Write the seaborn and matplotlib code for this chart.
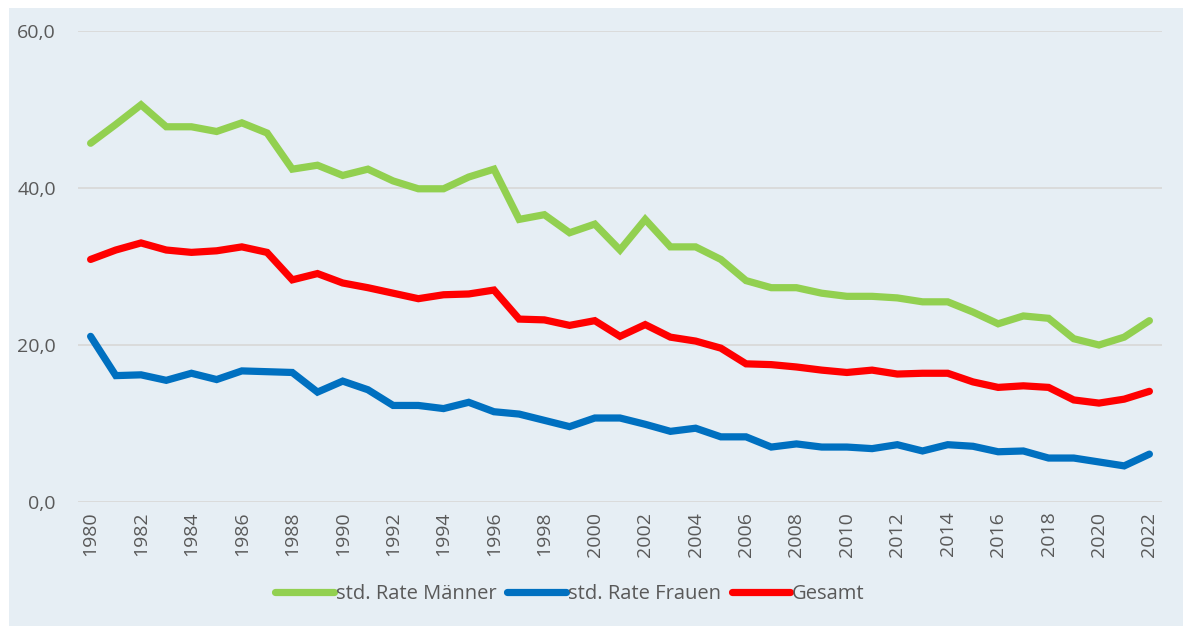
import numpy as np
import pandas as pd
import matplotlib
matplotlib.use("Agg")
import matplotlib.pyplot as plt
import seaborn as sns
from matplotlib.patches import Rectangle
from matplotlib.lines import Line2D

years = list(range(1980, 2023))
maenner = [45.7, 48.1, 50.6, 47.8, 47.8, 47.2, 48.3, 47.0, 42.4, 42.9,
           41.6, 42.4, 40.9, 39.9, 39.9, 41.4, 42.4, 36.0, 36.6, 34.3,
           35.4, 32.1, 36.0, 32.5, 32.5, 30.9, 28.2, 27.3, 27.3, 26.6,
           26.2, 26.2, 26.0, 25.5, 25.5, 24.2, 22.7, 23.7, 23.4, 20.8,
           20.0, 21.0, 23.1]
frauen = [21.1, 16.1, 16.2, 15.5, 16.4, 15.6, 16.7, 16.6, 16.5, 14.0,
          15.4, 14.3, 12.3, 12.3, 11.9, 12.7, 11.5, 11.2, 10.4, 9.6,
          10.7, 10.7, 9.9, 9.0, 9.4, 8.3, 8.3, 7.0, 7.4, 7.0,
          7.0, 6.8, 7.3, 6.5, 7.3, 7.1, 6.4, 6.5, 5.6, 5.6,
          5.1, 4.6, 6.1]
gesamt = [30.9, 32.1, 33.0, 32.1, 31.8, 32.0, 32.5, 31.8, 28.3, 29.1,
          27.9, 27.3, 26.6, 25.9, 26.4, 26.5, 27.0, 23.3, 23.2, 22.5,
          23.1, 21.1, 22.6, 21.0, 20.5, 19.6, 17.6, 17.5, 17.2, 16.8,
          16.5, 16.8, 16.3, 16.4, 16.4, 15.3, 14.6, 14.8, 14.6, 13.0,
          12.6, 13.1, 14.1]
series_names = ["std. Rate Männer", "std. Rate Frauen", "Gesamt"]
series_colors = ["#92D050", "#0070C0", "#FF0000"]
y_ticks = [0, 20, 40, 60]

df = pd.DataFrame({
    "Jahr": years * 3,
    "Wert": maenner + frauen + gesamt,
    "Serie": [series_names[0]] * len(years) + [series_names[1]] * len(years) + [series_names[2]] * len(years),
})

sns.set_theme(style="white")
plt.rcParams["font.family"] = ["Open Sans", "DejaVu Sans"]

bg = "#E6EEF4"
txt = "#595959"
fig = plt.figure(figsize=(11.83, 6.26), dpi=100, facecolor="white")
fig.patches.append(Rectangle((9 / 1183, 0), 1 - 9 / 1183, 1 - 8 / 626,
                             transform=fig.transFigure, facecolor=bg,
                             edgecolor="none", zorder=-10))
ax = fig.add_axes([78 / 1183, 1 - 502 / 626, (1162 - 78) / 1183, (502 - 31) / 626])
ax.set_facecolor(bg)

sns.lineplot(data=df, x="Jahr", y="Wert", hue="Serie", hue_order=series_names,
             palette=series_colors, linewidth=5.2, ax=ax, legend=False,
             solid_capstyle="round", solid_joinstyle="miter")

ax.set_xlim(1979.5, 2022.5)
ax.set_ylim(0, 60)
ax.set_yticks(y_ticks)
ax.set_yticklabels([f"{v:.1f}".replace(".", ",") for v in y_ticks])
ax.set_xticks(years[::2])
ax.set_xticklabels([str(y) for y in years[::2]], rotation=90)
ax.tick_params(axis="both", length=0, labelsize=14, colors=txt)
ax.tick_params(axis="y", pad=16)
ax.tick_params(axis="x", pad=7)
ax.grid(axis="y", color="#D9D9D9", linewidth=1.3)
ax.set_axisbelow(True)
for s in ax.spines.values():
    s.set_visible(False)
ax.set_xlabel("")
ax.set_ylabel("")

handles = [Line2D([0], [0], color=c, linewidth=5.2, solid_capstyle="round") for c in series_colors]
leg = fig.legend(handles, series_names, loc="center", bbox_to_anchor=(570 / 1183, 1 - 594 / 626),
                 ncol=3, frameon=False, fontsize=14.5, handlelength=2.9,
                 handletextpad=0.1, columnspacing=0.55)
for t in leg.get_texts():
    t.set_color(txt)

fig.savefig("out.png", dpi=100, facecolor="white")
